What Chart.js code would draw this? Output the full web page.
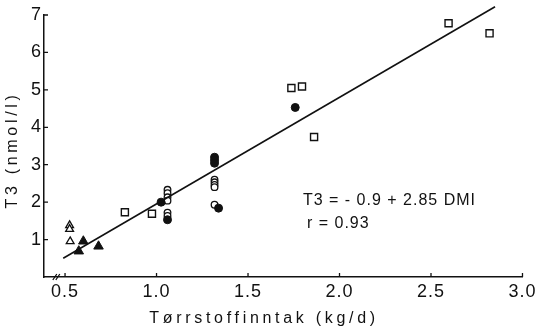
<!DOCTYPE html>
<html>
<head>
<meta charset="utf-8">
<script src="https://cdn.jsdelivr.net/npm/chart.js@4/dist/chart.umd.min.js"></script>
<style>
  html, body { margin: 0; padding: 0; background: #fff; }
  #wrap { width: 539px; height: 326px; }
</style>
</head>
<body>
<div id="wrap"><canvas id="chart"></canvas></div>
<script>
// values
var openSquares = [
    {x: 0.827, y: 1.73}, {x: 0.975, y: 1.69}, {x: 1.737, y: 5.05},
    {x: 1.795, y: 5.09}, {x: 1.861, y: 3.74}, {x: 2.596, y: 6.78},
    {x: 2.82, y: 6.51}
];
var filledCircles = [
    {x: 1.025, y: 2.0}, {x: 1.06, y: 1.53}, {x: 1.317, y: 3.2},
    {x: 1.317, y: 3.12}, {x: 1.317, y: 3.04}, {x: 1.339, y: 1.84},
    {x: 1.758, y: 4.53}
];
var openCircles = [
    {x: 1.06, y: 2.33}, {x: 1.06, y: 2.24}, {x: 1.06, y: 2.13},
    {x: 1.06, y: 2.04}, {x: 1.06, y: 1.72}, {x: 1.06, y: 1.63},
    {x: 1.317, y: 2.6}, {x: 1.317, y: 2.53}, {x: 1.317, y: 2.46},
    {x: 1.317, y: 2.4}, {x: 1.317, y: 1.93}
];
var filledTriangles = [
    {x: 0.6, y: 0.955}, {x: 0.575, y: 0.69}, {x: 0.683, y: 0.82}
];
var openTriangles = [
    {x: 0.525, y: 1.38}, {x: 0.525, y: 1.28}, {x: 0.528, y: 0.95}
];
var regressionLine = [{x: 0.49, y: 0.5}, {x: 2.85, y: 7.22}];

var xTickValues = [0.5, 1.0, 1.5, 2.0, 2.5, 3.0];
var yTickValues = [1, 2, 3, 4, 5, 6, 7];
var xTitle = 'Tørrstoffinntak (kg/d)';
var yTitle = 'T3 (nmol/l)';
var equationLines = ['T3 = - 0.9 + 2.85 DMI', 'r = 0.93'];
var equationPos = {x: 1.8, y: 2.2};

var ink = '#111';
var fontFamily = 'Liberation Sans, Arial, sans-serif';

// inward ticks, axis break, titles and equation text
var decorations = {
    id: 'decorations',
    beforeDraw: function(chart) {
        chart.ctx.letterSpacing = '1px';
    },
    afterDraw: function(chart) {
        var ctx = chart.ctx;
        var xs = chart.scales.x, ys = chart.scales.y;
        var area = chart.chartArea;
        ctx.save();
        ctx.strokeStyle = ink;
        ctx.lineWidth = 1.3;
        ctx.beginPath();
        yTickValues.forEach(function(v) {
            var py = ys.getPixelForValue(v);
            ctx.moveTo(area.left - 1, py);
            ctx.lineTo(area.left + 4, py);
        });
        xTickValues.forEach(function(v) {
            var px = xs.getPixelForValue(v);
            ctx.moveTo(px, area.bottom);
            ctx.lineTo(px, area.bottom - 4);
        });
        // axis break marks
        var bx = xs.getPixelForValue(0.455);
        ctx.moveTo(bx - 4, area.bottom + 3);
        ctx.lineTo(bx, area.bottom - 3);
        ctx.moveTo(bx - 1, area.bottom + 3);
        ctx.lineTo(bx + 3, area.bottom - 3);
        ctx.stroke();

        ctx.fillStyle = ink;
        ctx.font = '16px ' + fontFamily;
        ctx.letterSpacing = '3.7px';
        ctx.textAlign = 'center';
        ctx.textBaseline = 'middle';
        ctx.fillText(xTitle, 264, 319);
        ctx.save();
        ctx.translate(13, 150);
        ctx.rotate(-Math.PI / 2);
        ctx.fillText(yTitle, 0, 0);
        ctx.restore();

        ctx.font = '16px ' + fontFamily;
        ctx.letterSpacing = '1px';
        ctx.textAlign = 'left';
        var ex = xs.getPixelForValue(equationPos.x);
        var ey = ys.getPixelForValue(equationPos.y);
        ctx.fillText(equationLines[0], ex, ey + 6);
        ctx.fillText(equationLines[1], ex + 4, ey + 29);
        ctx.restore();
    }
};

var ctx = document.getElementById('chart').getContext('2d');
var chart = new Chart(ctx, {
    type: 'scatter',
    data: {
        datasets: [{
            label: 'Regression',
            type: 'line',
            data: regressionLine,
            borderColor: ink,
            borderWidth: 1.6,
            pointRadius: 0,
            clip: false
        }, {
            label: 'Open squares',
            data: openSquares,
            pointStyle: 'rect',
            pointRadius: 5,
            backgroundColor: '#fff',
            borderColor: ink,
            borderWidth: 1.4
        }, {
            label: 'Filled circles',
            data: filledCircles,
            pointStyle: 'circle',
            pointRadius: 4,
            backgroundColor: ink,
            borderColor: ink,
            borderWidth: 1
        }, {
            label: 'Open circles',
            data: openCircles,
            pointStyle: 'circle',
            pointRadius: 3.3,
            backgroundColor: '#fff',
            borderColor: ink,
            borderWidth: 1.3
        }, {
            label: 'Filled triangles',
            data: filledTriangles,
            pointStyle: 'triangle',
            pointRadius: 5.5,
            backgroundColor: ink,
            borderColor: ink,
            borderWidth: 1
        }, {
            label: 'Open triangles',
            data: openTriangles,
            pointStyle: 'triangle',
            pointRadius: 4.5,
            backgroundColor: '#fff',
            borderColor: ink,
            borderWidth: 1.3
        }]
    },
    options: {
        responsive: true,
        maintainAspectRatio: false,
        animation: false,
        layout: { padding: { top: 15, right: 11, left: 0, bottom: 0 } },
        plugins: {
            legend: { display: false },
            tooltip: { enabled: false }
        },
        scales: {
            x: {
                type: 'linear',
                min: 0.385,
                max: 3.0,
                afterBuildTicks: function(scale) {
                    scale.ticks = xTickValues.map(function(v) { return {value: v}; });
                },
                afterFit: function(scale) { scale.height = 49; },
                grid: { display: false, drawTicks: false },
                border: { display: true, color: ink, width: 1.5 },
                ticks: {
                    color: ink,
                    padding: 4,
                    font: { family: fontFamily, size: 18 },
                    callback: function(v) { return Number(v).toFixed(1); }
                }
            },
            y: {
                type: 'linear',
                min: 0,
                max: 7,
                afterBuildTicks: function(scale) {
                    scale.ticks = yTickValues.map(function(v) { return {value: v}; });
                },
                afterFit: function(scale) { scale.width = 44; },
                grid: { display: false, drawTicks: false },
                border: { display: true, color: ink, width: 1.5 },
                ticks: {
                    color: ink,
                    padding: 2,
                    font: { family: fontFamily, size: 18 },
                    callback: function(v) { return String(v); }
                }
            }
        }
    },
    plugins: [decorations]
});
</script>
</body>
</html>
